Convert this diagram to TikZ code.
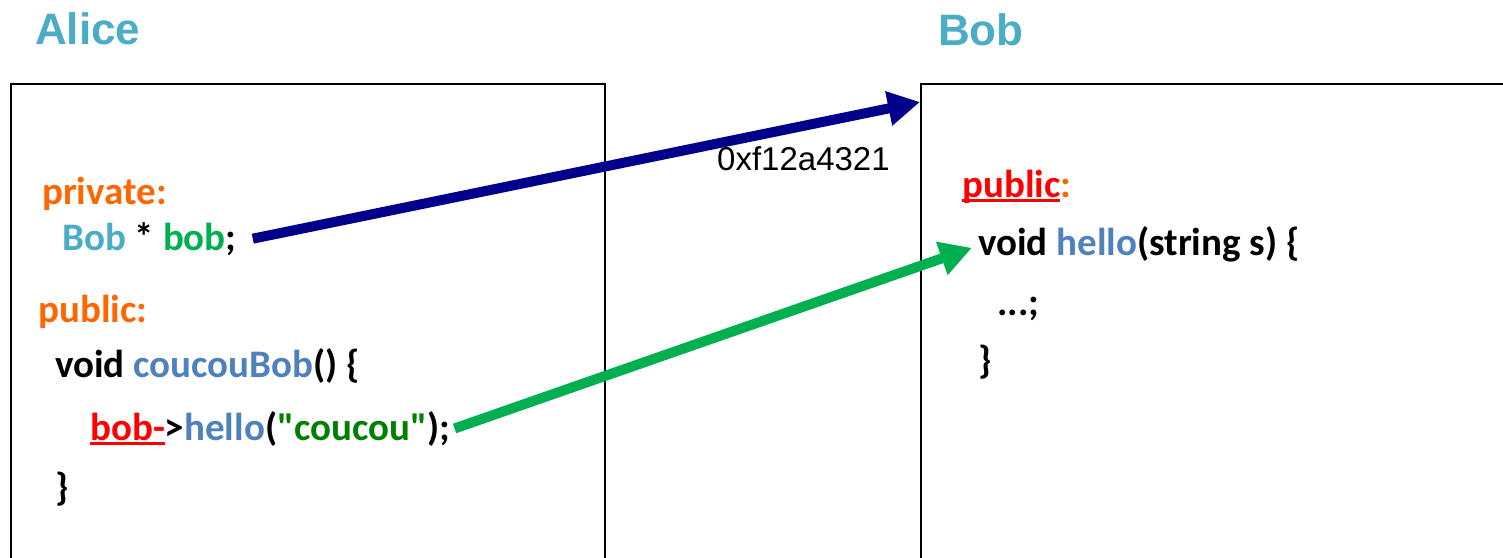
\documentclass[tikz,border=0pt]{standalone}
\usepackage{fontspec}
\setmainfont{Carlito}[Ligatures=TeXOff]
\newfontfamily\helv{Liberation Sans}
\usetikzlibrary{arrows.meta}
\definecolor{titleblue}{HTML}{4BACC6}
\definecolor{kworange}{HTML}{FF6600}
\definecolor{codeblue}{HTML}{4F81BD}
\definecolor{vargreen}{HTML}{00B050}
\definecolor{strgreen}{HTML}{008000}
\definecolor{navyarrow}{HTML}{00008B}
\newsavebox\ulsavebox
\newcommand\ulred[1]{\sbox\ulsavebox{#1}\rlap{\color{red}\rule[-5pt]{\wd\ulsavebox}{2.6pt}}\usebox\ulsavebox}
\tikzset{
  code/.style={anchor=base west, inner sep=0pt, font=\fontsize{39}{41}\selectfont\bfseries},
  title/.style={anchor=base west, inner sep=0pt, font=\fontsize{44}{46}\selectfont\helv\bfseries, text=titleblue},
  objbox/.style={draw, line width=2pt, anchor=north west, inner sep=0pt},
  ptr/.style={line width=10pt, -{Triangle[length=32pt,width=33pt]}},
}
\begin{document}
\begin{tikzpicture}[x=1pt,y=-1pt]
\useasboundingbox (0,0) rectangle (1503,557);
\clip (0,0) rectangle (1503,557);
\fill[white] (0,0) rectangle (1503,557);
% titles
\node[title] (alice) at (35,44) {Alice};
\node[title] (bob) at (938,45) {Bob};
% boxes
\node[objbox, minimum width=594pt, minimum height=500pt] (boxA) at (10,83) {};
\node[objbox, minimum width=620pt, minimum height=500pt] (boxB) at (920,83) {};
% Alice code
\node[code, text=kworange] (priv) at (42,204) {private:};
\node[code] (decl) at (62,250) {\textcolor{titleblue}{Bob} * \textcolor{vargreen}{bob};};
\node[code, text=kworange] (pubA) at (38,322) {public:};
\node[code] (meth) at (55,377) {void \textcolor{codeblue}{coucouBob}() \{};
\node[code] (call) at (90,440) {\ulred{\textcolor{red}{bob-}}>\textcolor{codeblue}{hello}(\textcolor{strgreen}{"coucou"});};
\node[code] (closeA) at (55,500) {\}};
% Bob code
\node[code] (pubB) at (962,197) {\ulred{\textcolor{red}{public}}\textcolor{kworange}{:}};
\node[code] (hello) at (978,255) {void \textcolor{codeblue}{hello}(string s) \{};
\node[code] (body) at (997,315) {...;};
\node[code] (closeB) at (978,373) {\}};
% address
\node[anchor=base west, inner sep=0pt, font=\fontsize{33}{35}\selectfont\helv] (addr) at (717,170) {0xf12a4321};
% arrows
\coordinate (ptrstart) at ([xshift=16pt]decl.east);
\coordinate (ptrend) at (920,102);
\draw[ptr, navyarrow] (ptrstart) -- (ptrend);
\coordinate (callstart) at ([xshift=4pt]call.east);
\coordinate (callend) at ([xshift=-6pt,yshift=-4pt]hello.west);
\draw[ptr, vargreen] (callstart) -- (callend);
\end{tikzpicture}
\end{document}
